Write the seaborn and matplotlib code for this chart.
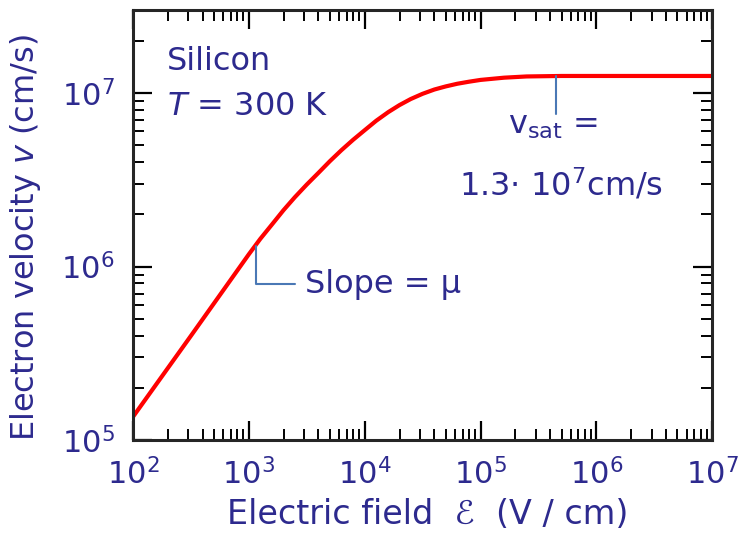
import numpy as np
import pandas as pd
import matplotlib
matplotlib.use("Agg")
import matplotlib.pyplot as plt
import matplotlib.ticker as mticker
import seaborn as sns

# velocity-field curve for silicon
field = [100, 316, 1000, 1259, 1600, 1995, 2500, 3162, 4000, 5012, 6300, 7943, 1e4, 1.259e4, 1.6e4,
         1.995e4, 2.5e4, 3.162e4, 4e4, 5.012e4, 6.3e4, 7.943e4, 1e5, 1.6e5, 2.5e5, 5e5, 1e6, 1e7]
velocity = [1.36e5, 3.98e5, 1.175e6, 1.445e6, 1.76e6, 2.113e6, 2.51e6, 2.965e6, 3.47e6, 4.046e6, 4.68e6,
            5.37e6, 6.1e6, 6.92e6, 7.76e6, 8.51e6, 9.23e6, 9.89e6, 1.047e7, 1.091e7, 1.13e7, 1.161e7,
            1.189e7, 1.225e7, 1.245e7, 1.253e7, 1.253e7, 1.253e7]

# annotation markers (field, velocity)
slope_mark_x = [1.15e3, 1.15e3, 2.5e3]
slope_mark_y = [1.32e6, 7.9e5, 7.9e5]
vsat_mark_x = [4.5e5, 4.5e5]
vsat_mark_y = [1.25e7, 7.6e6]

df = pd.DataFrame({"E": field, "v": velocity})

sns.set_style("ticks")
plt.rcParams["font.family"] = ["DejaVu Sans"]
plt.rcParams["mathtext.fontset"] = "dejavusans"

navy = "#2d2a8e"
mark_blue = "#4a78b5"

fig, ax = plt.subplots(figsize=(7.42, 5.33), dpi=100)
fig.subplots_adjust(left=0.179, right=0.960, top=0.981, bottom=0.174)

sns.lineplot(data=df, x="E", y="v", color="#ff0000", linewidth=3, ax=ax)
ax.plot(slope_mark_x, slope_mark_y, color=mark_blue, linewidth=1.5)
ax.plot(vsat_mark_x, vsat_mark_y, color=mark_blue, linewidth=1.5)

ax.set_xscale("log")
ax.set_yscale("log")
ax.set_xlim(1e2, 1e7)
ax.set_ylim(1e5, 3e7)
ax.yaxis.set_minor_formatter(mticker.NullFormatter())
ax.xaxis.set_minor_formatter(mticker.NullFormatter())

for s in ax.spines.values():
    s.set_visible(True)
    s.set_linewidth(2.2)
ax.tick_params(which="both", direction="in", top=True, right=True,
               colors="black", labelcolor=navy, labelsize=22)
ax.tick_params(which="major", length=14, width=1.6)
ax.tick_params(which="minor", length=8, width=1.4)
ax.tick_params(axis="x", pad=13)
ax.tick_params(axis="y", pad=13)

ax.set_xlabel("Electric field  \u2130  (V / cm)", fontsize=24, color=navy)
ax.set_ylabel("Electron velocity $v$ (cm/s)", fontsize=23, color=navy)
ax.xaxis.set_label_coords(0.508, -0.135)
ax.yaxis.set_label_coords(-0.155, 0.472)

ax.text(0.059, 0.860, "Silicon", transform=ax.transAxes, fontsize=23, color=navy, va="baseline")
ax.text(0.059, 0.756, "$T$ = 300 K", transform=ax.transAxes, fontsize=23, color=navy, va="baseline")
ax.text(0.725, 0.714, "v$_{\\mathrm{sat}}$ =", transform=ax.transAxes, fontsize=23,
        color=navy, ha="center", va="baseline")
ax.text(0.739, 0.570, "1.3$\\cdot$ 10$^{7}$cm/s", transform=ax.transAxes, fontsize=23,
        color=navy, ha="center", va="baseline")
ax.text(0.297, 0.342, "Slope = \u03bc", transform=ax.transAxes, fontsize=23,
        color=navy, ha="left", va="baseline")

plt.savefig("out.png", dpi=100)
